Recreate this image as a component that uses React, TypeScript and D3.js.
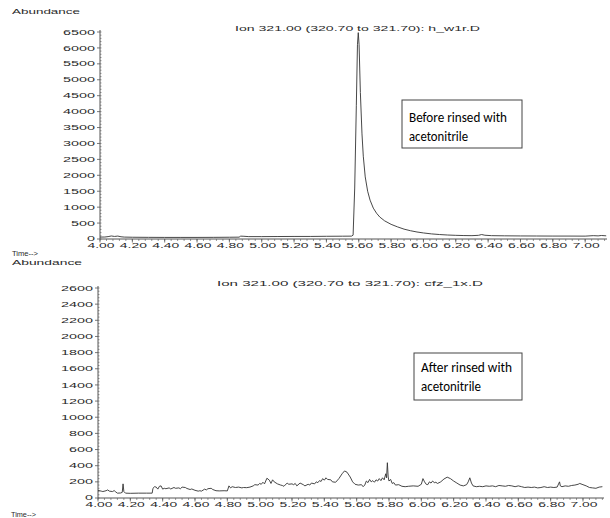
import React from "react";
import * as d3 from "d3";

// ---------- DATA ----------
const X_TICK_LABELS = ["4.00","4.20","4.40","4.60","4.80","5.00","5.20","5.40","5.60","5.80","6.00","6.20","6.40","6.60","6.80","7.00"];

const TOP_TITLE = "Ion 321.00 (320.70 to 321.70): h_w1r.D";
const BOTTOM_TITLE = "Ion 321.00 (320.70 to 321.70): cfz_1x.D";

const TOP_Y_TICKS = [0,500,1000,1500,2000,2500,3000,3500,4000,4500,5000,5500,6000,6500];
const BOTTOM_Y_TICKS = [0,200,400,600,800,1000,1200,1400,1600,1800,2000,2200,2400,2600];

const TOP_TIMES = [4.00,4.03,4.05,4.07,4.09,4.11,4.13,4.15,4.20,4.30,4.40,4.50,4.60,4.70,4.80,4.86,4.87,4.89,4.92,5.00,5.10,5.20,5.30,5.40,5.50,5.555,5.565,5.575,5.585,5.592,5.597,5.602,5.61,5.62,5.628,5.64,5.655,5.67,5.69,5.71,5.73,5.76,5.80,5.84,5.88,5.92,5.96,6.00,6.05,6.10,6.15,6.20,6.25,6.30,6.34,6.36,6.38,6.42,6.50,6.60,6.70,6.80,6.90,7.00,7.05,7.08,7.10,7.13];
const TOP_VALUES = [60,62,75,95,80,92,70,60,55,52,50,50,50,52,55,58,90,85,75,75,78,80,80,85,88,90,120,1600,4200,6100,6480,6100,4600,3300,2600,1950,1500,1220,970,810,690,570,460,380,310,260,220,190,160,140,125,115,108,105,115,140,118,105,100,96,94,92,92,90,105,98,110,100];

const BOTTOM_TIMES = [4.00,4.02,4.03,4.05,4.06,4.07,4.09,4.10,4.11,4.12,4.14,4.15,4.155,4.16,4.17,4.20,4.25,4.30,4.335,4.34,4.35,4.36,4.37,4.38,4.39,4.40,4.41,4.42,4.44,4.45,4.47,4.48,4.50,4.51,4.52,4.54,4.55,4.57,4.58,4.60,4.62,4.63,4.64,4.66,4.67,4.68,4.70,4.71,4.73,4.75,4.78,4.80,4.81,4.82,4.83,4.85,4.87,4.89,4.90,4.92,4.94,4.96,4.97,4.99,5.00,5.01,5.02,5.03,5.045,5.06,5.07,5.08,5.09,5.11,5.13,5.14,5.15,5.17,5.18,5.20,5.21,5.22,5.23,5.25,5.27,5.28,5.30,5.31,5.32,5.34,5.35,5.36,5.37,5.38,5.39,5.40,5.41,5.42,5.44,5.45,5.47,5.49,5.51,5.525,5.54,5.56,5.575,5.59,5.61,5.63,5.64,5.65,5.66,5.67,5.68,5.69,5.70,5.71,5.72,5.73,5.74,5.75,5.76,5.77,5.78,5.785,5.79,5.795,5.80,5.81,5.82,5.83,5.84,5.86,5.88,5.90,5.92,5.95,5.98,6.00,6.01,6.02,6.03,6.04,6.05,6.06,6.07,6.08,6.09,6.10,6.12,6.14,6.16,6.18,6.20,6.22,6.24,6.26,6.28,6.29,6.30,6.31,6.32,6.34,6.36,6.38,6.40,6.42,6.44,6.46,6.48,6.50,6.52,6.54,6.56,6.58,6.60,6.62,6.64,6.66,6.68,6.70,6.72,6.74,6.76,6.78,6.80,6.82,6.84,6.855,6.86,6.87,6.89,6.91,6.93,6.95,6.97,6.98,7.00,7.02,7.04,7.06,7.08,7.10,7.12];
const BOTTOM_VALUES = [95,85,80,90,100,85,80,92,75,60,62,70,175,80,60,58,60,60,60,120,140,135,110,145,150,110,120,115,125,112,130,120,125,115,135,130,118,105,112,95,85,90,85,110,100,115,120,105,90,88,90,88,150,125,140,130,135,125,130,128,135,150,165,160,180,170,195,175,245,220,180,225,200,175,160,155,145,185,170,175,165,180,150,185,165,150,170,160,185,175,200,190,215,205,240,220,250,230,225,200,195,240,300,335,320,260,200,170,160,165,140,160,210,190,230,200,215,195,225,210,240,215,250,225,300,250,437,260,210,230,180,190,160,165,145,140,145,150,145,170,240,200,170,165,200,185,210,190,195,180,200,235,258,240,210,185,160,150,165,200,250,185,150,140,145,140,150,145,150,140,155,150,145,155,150,140,150,140,130,135,130,135,125,130,140,130,135,130,135,200,150,140,150,145,155,160,170,180,165,150,130,125,120,135,140];

// ---------- helpers ----------
const FONT = "'Liberation Sans', Arial, Helvetica, sans-serif";
const BOX_FONT = "'Liberation Sans Narrow', Carlito, 'Open Sans', sans-serif";

function labelWidth(s: string) {
  let w = 0;
  for (const ch of s) w += ch === "." ? 3 : 8;
  return w;
}

function SText({ x, y, text, width, size = 7, anchor = "start", family = FONT, fill = "#2a2a2a" }: any) {
  return (
    <text
      x={x}
      y={y}
      fontSize={size}
      fontFamily={family}
      textAnchor={anchor}
      textLength={width}
      lengthAdjust="spacingAndGlyphs"
      fill={fill}
    >
      {text}
    </text>
  );
}

function Panel({ times, values, yTicks, yMax, x0, x1, xMax, yBottom, yTop, minorY, title, titleX, titleW, titleY }: any) {
  const x = d3.scaleLinear().domain([4, xMax]).range([x0, x1]);
  const y = d3.scaleLinear().domain([0, yMax]).range([yBottom, yTop]);
  const line = d3
    .line<number>()
    .x((_, i) => x(times[i]))
    .y((d) => y(d));
  const minorX = d3.range(4, xMax + 1e-9, 0.04);
  const minorYs = d3.range(0, yMax + 1e-9, minorY);
  const axisColor = "#555";
  return (
    <g>
      <SText x={titleX} y={titleY} text={title} width={titleW} />
      {/* y axis */}
      <line x1={x0} x2={x0} y1={yBottom} y2={yTop - 2} stroke={axisColor} strokeWidth={1} />
      {minorYs.map((v, i) => (
        <line key={"my" + i} x1={x0} x2={x0 + 1.5} y1={y(v)} y2={y(v)} stroke={axisColor} strokeWidth={0.6} />
      ))}
      {yTicks.map((v: number) => (
        <g key={"yt" + v}>
          <line x1={x0 - 3} x2={x0} y1={y(v)} y2={y(v)} stroke={axisColor} strokeWidth={0.8} />
          <SText x={x0 - 5} y={y(v) + (v === 0 ? 1.5 : 2.6)} text={String(v)} width={labelWidth(String(v))} anchor="end" />
        </g>
      ))}
      {/* x axis */}
      <line x1={x0} x2={x1} y1={yBottom} y2={yBottom} stroke={axisColor} strokeWidth={1} />
      {minorX.map((t, i) => (
        <line key={"mx" + i} x1={x(t)} x2={x(t)} y1={yBottom} y2={yBottom + 2} stroke={axisColor} strokeWidth={0.6} />
      ))}
      {X_TICK_LABELS.map((s) => {
        const t = +s;
        return (
          <g key={"xt" + s}>
            <line x1={x(t)} x2={x(t)} y1={yBottom} y2={yBottom + 3.5} stroke={axisColor} strokeWidth={0.8} />
            <SText x={x(t) + 1} y={yBottom + 8.5} text={s} width={labelWidth(s)} anchor="middle" />
          </g>
        );
      })}
      <path d={line(values) || ""} fill="none" stroke="#333" strokeWidth={0.9} />
    </g>
  );
}

function Box({ x, y, w, h, lines }: any) {
  return (
    <g>
      <rect x={x} y={y} width={w} height={h} fill="#fff" stroke="#444" strokeWidth={1} />
      {lines.map((l: any, i: number) => (
        <SText key={i} x={l.x} y={l.y} text={l.text} width={l.w} size={13.5} family={BOX_FONT} fill="#000" />
      ))}
    </g>
  );
}

export default function App() {
  return (
    <svg width={610} height={518} style={{ position: "absolute", left: 0, top: 0, background: "#fff" }}>
      <rect width={610} height={518} fill="#fff" />
      <SText x={12} y={14} text="Abundance" width={68} size={7} />
      <Panel
        times={TOP_TIMES}
        values={TOP_VALUES}
        yTicks={TOP_Y_TICKS}
        yMax={6500}
        x0={100}
        x1={607}
        xMax={7.135}
        yBottom={239}
        yTop={32}
        minorY={100}
        title={TOP_TITLE}
        titleX={235}
        titleW={245}
        titleY={31}
      />
      <Box
        x={402}
        y={100}
        w={120}
        h={48}
        lines={[
          { x: 409, y: 122, text: "Before rinsed with", w: 98 },
          { x: 409, y: 141, text: "acetonitrile", w: 59 },
        ]}
      />
      <SText x={12} y={256} text="Time-->" width={26} size={7.5} />
      <SText x={12} y={265} text="Abundance" width={70} size={7.5} />
      <Panel
        times={BOTTOM_TIMES}
        values={BOTTOM_VALUES}
        yTicks={BOTTOM_Y_TICKS}
        yMax={2600}
        x0={98}
        x1={604}
        xMax={7.13}
        yBottom={498}
        yTop={288}
        minorY={40}
        title={BOTTOM_TITLE}
        titleX={217}
        titleW={266}
        titleY={286}
      />
      <Box
        x={414}
        y={353}
        w={108}
        h={47}
        lines={[
          { x: 421, y: 372, text: "After rinsed with", w: 91 },
          { x: 421, y: 391, text: "acetonitrile", w: 60 },
        ]}
      />
      <SText x={11} y={517} text="Time-->" width={25} size={7.5} />
    </svg>
  );
}
